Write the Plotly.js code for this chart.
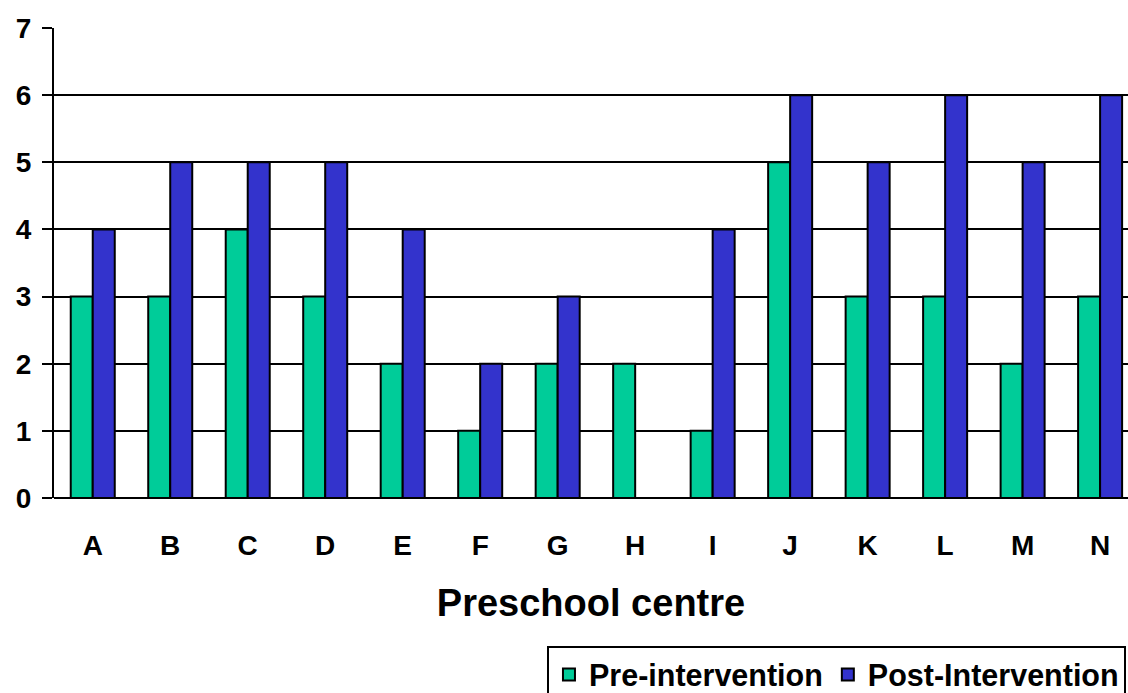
<!DOCTYPE html>
<html>
<head>
<meta charset="utf-8">
<script src="https://cdn.plot.ly/plotly-3.0.1.min.js"></script>
<style>html,body{margin:0;padding:0;background:#fff;}#chart{width:1128px;height:693px;}</style>
</head>
<body>
<div id="chart"></div>
<script>
const categories = ["A","B","C","D","E","F","G","H","I","J","K","L","M","N"];
const preIntervention = [3,3,4,3,2,1,2,2,1,5,3,3,2,3];
const postIntervention = [4,5,5,5,4,2,3,0,4,6,5,6,5,6];
const yTicks = [0,1,2,3,4,5,6,7];

const FONT = "Liberation Sans, Arial, sans-serif";

const traces = [
  {type:"bar", name:"Pre-intervention", x:categories, y:preIntervention,
   marker:{color:"#00CC99", line:{color:"#000", width:2}}},
  {type:"bar", name:"Post-Intervention", x:categories, y:postIntervention,
   marker:{color:"#3333CC", line:{color:"#000", width:2}}}
];

const layout = {
  width:1128, height:693,
  margin:{l:54, r:0, t:28, b:195, autoexpand:false},
  paper_bgcolor:"#fff", plot_bgcolor:"#fff",
  barmode:"group", bargap:0.432, bargroupgap:0,
  showlegend:true,
  font:{family:FONT, color:"#000", weight:"bold"},
  xaxis:{
    range:[-0.5, 13.36], showgrid:false, zeroline:false, showline:false,
    ticks:"", ticklabelstandoff:28,
    tickfont:{size:28, family:FONT, weight:"bold"},
    title:{text:"Preschool centre", font:{size:38, family:FONT, weight:"bold"}, standoff:29},
    automargin:false
  },
  yaxis:{
    range:[0,7], tickvals:yTicks, showgrid:true, gridcolor:"#000", gridwidth:2,
    zeroline:true, zerolinecolor:"#000", zerolinewidth:2,
    showline:true, linecolor:"#000", linewidth:2,
    ticks:"outside", ticklen:10, tickwidth:2, tickcolor:"#000",
    ticklabelstandoff:5,
    tickfont:{size:28, family:FONT, weight:"bold"},
    automargin:false
  },
  legend:{
    orientation:"h", x:0.459, xanchor:"left", y:-0.315, yanchor:"top",
    bordercolor:"#000", borderwidth:2, bgcolor:"#fff",
    font:{size:30.5, family:FONT, weight:"bold"}, traceorder:"normal",
    itemwidth:30
  }
};

Plotly.newPlot("chart", traces, layout, {displayModeBar:false, staticPlot:true});
</script>
</body>
</html>
